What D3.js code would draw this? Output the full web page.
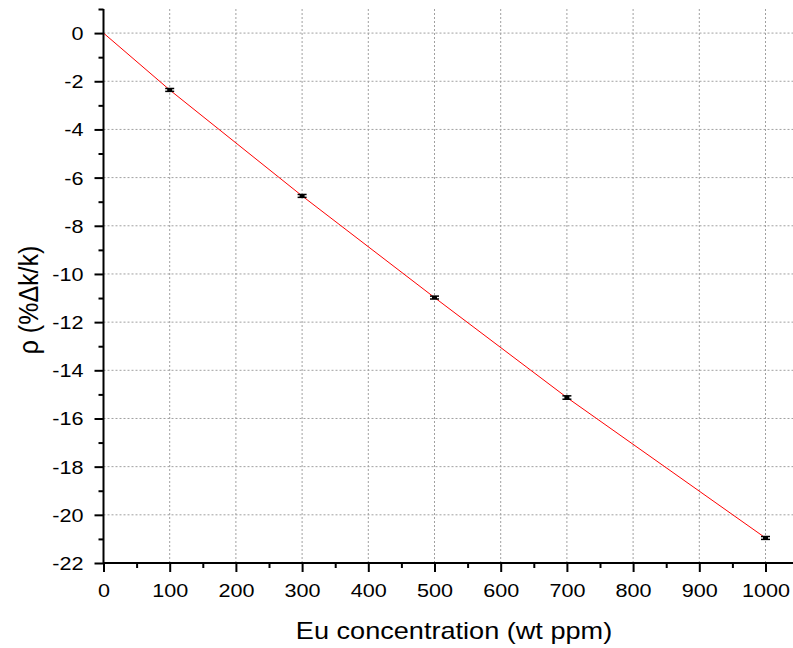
<!DOCTYPE html>
<html><head><meta charset="utf-8">
<script src="https://cdn.jsdelivr.net/npm/d3@7"></script>
<style>body{margin:0;background:#fff}svg{display:block}</style>
</head><body>
<svg id="c" width="793" height="648"></svg>
<script>
const concentrations = [100, 300, 500, 700, 1000];
const rhoValues = [-2.36, -6.76, -10.98, -15.13, -20.96];
const rhoErrors = [0.06, 0.06, 0.06, 0.07, 0.06];
const xTicks = [0,100,200,300,400,500,600,700,800,900,1000];
const yTicks = [0,-2,-4,-6,-8,-10,-12,-14,-16,-18,-20,-22];

const svg = d3.select("#c");
const x = d3.scaleLinear().domain([0, 1050]).range([103.5, 798.6]);
const y = d3.scaleLinear().domain([-22, 1]).range([563, 9]);
const font = "Arial, 'Liberation Sans', sans-serif";
const fmt = d => String(d);

// grid
const grid = svg.append("g").attr("stroke", "#a0a0a0").attr("stroke-width", 1).attr("stroke-dasharray", "2,2");
xTicks.filter(d => d > 0).forEach(d => grid.append("line").attr("x1", x(d)).attr("x2", x(d)).attr("y1", y(1)).attr("y2", y(-22)));
yTicks.filter(d => d > -22).forEach(d => grid.append("line").attr("x1", x(0)).attr("x2", 793).attr("y1", y(d)).attr("y2", y(d)));

// line
const pts = [[0,0]].concat(concentrations.map((c,i)=>[c, rhoValues[i]]));
svg.append("path").datum(pts).attr("fill","none").attr("stroke","#ff0000").attr("stroke-width",1)
  .attr("d", d3.line().x(d=>x(d[0])).y(d=>y(d[1])));

// error bars and points
const eb = svg.append("g").attr("stroke","#000").attr("stroke-width",1.5);
concentrations.forEach((c,i)=>{
  const cx = x(c), v = rhoValues[i], e = rhoErrors[i];
  eb.append("line").attr("x1",cx).attr("x2",cx).attr("y1",y(v-e)).attr("y2",y(v+e));
  eb.append("line").attr("x1",cx-4.5).attr("x2",cx+4.5).attr("y1",y(v-e)).attr("y2",y(v-e));
  eb.append("line").attr("x1",cx-4.5).attr("x2",cx+4.5).attr("y1",y(v+e)).attr("y2",y(v+e));
  svg.append("rect").attr("x",cx-2.5).attr("y",y(v)-1.5).attr("width",5).attr("height",3).attr("fill","#000");
});

// axes
const xAxis = svg.append("g").attr("transform",`translate(0,${y(-22)})`)
  .call(d3.axisBottom(x).tickValues(xTicks).tickSize(9).tickFormat(fmt));
svg.append("g").attr("transform",`translate(0,${y(-22)})`)
  .call(d3.axisBottom(x).tickValues(d3.range(50,1050,100)).tickSize(5).tickFormat(""))
  .call(g=>g.select(".domain").remove());
const yAxis = svg.append("g").attr("transform",`translate(${x(0)},0)`)
  .call(d3.axisLeft(y).tickValues(yTicks).tickSize(9).tickFormat(fmt));
svg.append("g").attr("transform",`translate(${x(0)},0)`)
  .call(d3.axisLeft(y).tickValues(d3.range(-21,2,2)).tickSize(5).tickFormat(""))
  .call(g=>g.select(".domain").remove());

svg.selectAll(".domain").attr("stroke","#000").attr("stroke-width",2);
svg.selectAll(".tick line").attr("stroke","#000").attr("stroke-width",2);
svg.selectAll("g").attr("font-size", null).attr("font-family", null);
xAxis.selectAll(".tick text")
  .attr("y", 0).attr("dy", null).attr("transform","translate(0,34) scale(1.2,1)");
yAxis.selectAll(".tick text")
  .attr("x", 0).attr("dy","0.36em").attr("transform","translate(-20,0) scale(1.2,1)");
svg.selectAll(".tick text").style("font-family",font).style("font-size","18px").attr("fill","#000");
// domain paths without end caps
xAxis.select(".domain").attr("d",`M${x(0)},0H793`);
yAxis.select(".domain").attr("d",`M0,${y(1)}V${y(-22)}`);

// labels
svg.append("text").attr("transform","translate(454,639) scale(1.13,1)").attr("text-anchor","middle")
  .style("font-family",font).style("font-size","24px").text("Eu concentration (wt ppm)");
svg.append("text").attr("transform","translate(38,300) rotate(-90) scale(1,1.08)").attr("text-anchor","middle")
  .style("font-family",font).style("font-size","25px").text("ρ (%Δk/k)");
</script>
</body></html>
